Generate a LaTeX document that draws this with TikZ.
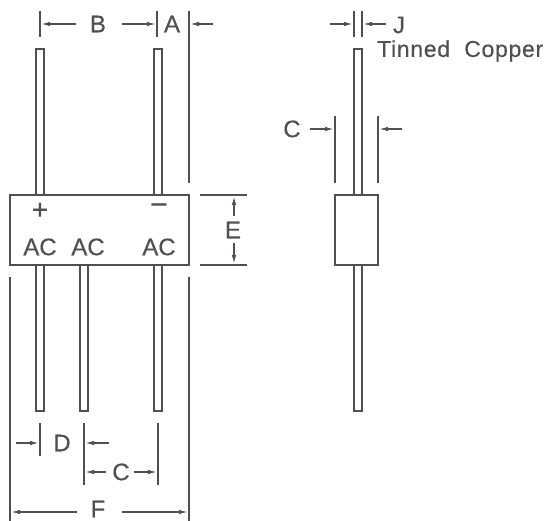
\documentclass[tikz,border=0pt]{standalone}
\usepackage{fontspec}
\setmainfont[FakeBold=0.4]{Liberation Sans}
\usetikzlibrary{arrows.meta}
\definecolor{inkgray}{HTML}{505050}
\tikzset{
	part/.style={draw=inkgray,line width=1.8pt},
	extline/.style={draw=inkgray,line width=1.8pt},
	dimline/.style={draw=inkgray,line width=1.4pt,-{Latex[length=9pt,width=4.5pt]}},
	dimtext/.style={text=inkgray,font=\fontsize{24}{24}\selectfont,inner sep=0pt}
}
\begin{document}
\begin{tikzpicture}[x=1pt,y=-1pt]
	\useasboundingbox (0,0) rectangle (549,521);
	% front view
	\draw[part] (10,195) rectangle (189,265);
	\foreach \x in {36,154}
	\draw[part,shift={(\x,0)}] (0,195) -- (0,49) -- (8,49) -- (8,195);
	\foreach \x in {36,80,154}
	\draw[part,shift={(\x,0)}] (0,265) -- (0,411) -- (8,411) -- (8,265);
	\foreach \x in {36,80,162}
	\draw[draw=inkgray,line width=2.4pt] (\x,350) -- (\x,380);
	\node[dimtext,font=\fontsize{28}{28}\selectfont] (plus) at (40,211) {+};
	\node[dimtext,font=\fontsize{30}{30}\selectfont] (minus) at (159,209) {\textminus};
	\foreach \x/\n in {40/first,88/second,159/third}
	\node[dimtext] (ac\n) at (\x,247) {AC};
	% side view
	\draw[part] (335,195) rectangle (378,265);
	\draw[part] (354,195) -- (354,49) -- (362,49) -- (362,195);
	\draw[part] (354,265) -- (354,411) -- (362,411) -- (362,265);
	% extension lines
	\foreach \x in {40,157,354,362}
	\draw[extline] (\x,11) -- (\x,37);
	\draw[extline] (189,11) -- (189,183);
	\draw[extline] (335,116) -- (335,183);
	\draw[extline] (378,116) -- (378,183);
	\draw[extline] (200,195) -- (247,195);
	\draw[extline] (200,265) -- (247,265);
	\draw[extline] (40,423) -- (40,456);
	\foreach \x in {84,158}
	\draw[extline] (\x,423) -- (\x,485);
	\foreach \x in {10,189}
	\draw[extline] (\x,277) -- (\x,521);
	% dimensions
	\draw[dimline] (76,24) -- (41,24);
	\draw[dimline] (122,24) -- (156,24);
	\draw[dimline] (213,24) -- (190,24);
	\draw[dimline] (330,24) -- (353,24);
	\draw[dimline] (386,24) -- (363,24);
	\draw[dimline] (310,129) -- (334,129);
	\draw[dimline] (402,129) -- (379,129);
	\draw[dimline] (234,216) -- (234,196);
	\draw[dimline] (234,243) -- (234,264);
	\draw[dimline] (16,443) -- (39,443);
	\draw[dimline] (109,443) -- (85,443);
	\draw[dimline] (106,472) -- (85,472);
	\draw[dimline] (134,472) -- (157,472);
	\draw[dimline] (77,512) -- (11,512);
	\draw[dimline] (122,512) -- (188,512);
	% labels
	\node[dimtext] (labelB) at (98,24) {B};
	\node[dimtext] (labelA) at (172,24) {A};
	\node[dimtext] (labelJ) at (399,25) {J};
	\node[dimtext] (labelCside) at (292,129) {C};
	\node[dimtext] (labelE) at (233,230) {E};
	\node[dimtext] (labelD) at (62,443) {D};
	\node[dimtext] (labelC) at (121,472) {C};
	\node[dimtext] (labelF) at (98,509) {F};
	\node[dimtext,anchor=west,font=\fontsize{23}{23}\selectfont\addfontfeature{LetterSpace=3}] (labelcopper) at (377,51) {Tinned\ \ Copper};
\end{tikzpicture}
\end{document}
